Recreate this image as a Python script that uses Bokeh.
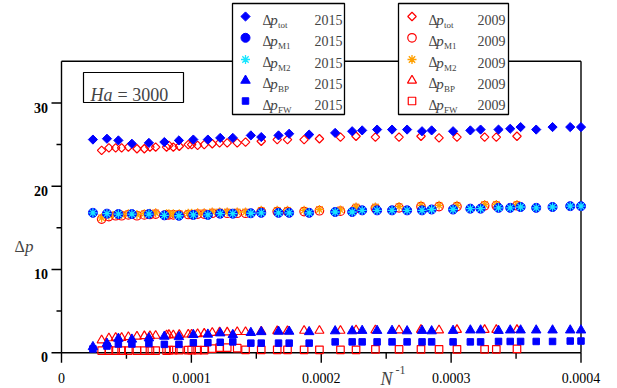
import math
from bokeh.plotting import figure
from bokeh.models import Range1d, Label
from bokeh.core.properties import value
from bokeh.embed import file_html
from bokeh.resources import INLINE

# ---------------- data ----------------
x2015 = [2.42e-5, 3.50e-5, 4.38e-5, 5.42e-5, 6.73e-5, 7.92e-5, 9.04e-5, 1.015e-4,
         1.127e-4, 1.222e-4, 1.319e-4, 1.458e-4, 1.538e-4, 1.671e-4, 1.753e-4, 1.907e-4,
         2.107e-4, 2.238e-4, 2.315e-4, 2.430e-4, 2.545e-4, 2.661e-4, 2.776e-4, 2.850e-4,
         3.015e-4, 3.148e-4, 3.227e-4, 3.365e-4, 3.455e-4, 3.535e-4, 3.655e-4, 3.781e-4,
         3.917e-4, 4.0e-4]
tot2015 = [25.6, 25.7, 25.5, 25.1, 25.2, 25.3, 25.5, 25.6, 25.6, 25.8, 25.8, 26.1, 25.9,
           26.1, 26.3, 26.2, 26.4, 26.6, 26.7, 26.8, 26.8, 26.8, 26.6, 26.7, 26.6, 26.7,
           26.8, 26.8, 26.9, 27.1, 26.8, 27.1, 27.1, 27.1]
m1_2015 = [16.8, 16.7, 16.65, 16.65, 16.65, 16.5, 16.45, 16.55, 16.55, 16.7, 16.7, 16.75,
           16.8, 16.8, 16.8, 16.8, 16.9, 16.9, 17.1, 17.1, 17.1, 17.1, 17.1, 17.2, 17.2,
           17.3, 17.3, 17.4, 17.4, 17.5, 17.4, 17.5, 17.6, 17.6]
m2_2015 = [16.8, 16.7, 16.65, 16.65, 16.65, 16.5, 16.45, 16.55, 16.55, 16.7, 16.7, 16.75,
           16.8, 16.8, 16.8, 16.8, 16.9, 16.9, 17.1, 17.1, 17.1, 17.1, 17.1, 17.2, 17.2,
           17.3, 17.3, 17.4, 17.4, 17.5, 17.4, 17.5, 17.6, 17.6]
bp2015 = [0.7, 1.1, 1.7, 1.6, 1.75, 1.95, 1.9, 2.15, 2.2, 2.35, 2.15, 2.4, 2.5, 2.55, 2.55,
          2.5, 2.6, 2.6, 2.65, 2.65, 2.65, 2.6, 2.65, 2.6, 2.65, 2.7, 2.7, 2.65, 2.7, 2.7,
          2.7, 2.7, 2.7, 2.7]
fw2015 = [0.45, 0.8, 1.05, 1.05, 1.1, 1.0, 1.0, 1.2, 1.2, 1.25, 1.3, 1.15, 1.15, 1.15,
          1.15, 1.15, 1.3, 1.3, 1.3, 1.3, 1.3, 1.3, 1.3, 1.3, 1.3, 1.3, 1.3, 1.35, 1.35,
          1.35, 1.35, 1.35, 1.4, 1.4]

x2009 = [3.09e-5, 3.65e-5, 4.17e-5, 4.63e-5, 5.15e-5, 5.81e-5, 6.38e-5, 6.81e-5, 7.25e-5,
         8.09e-5, 8.27e-5, 8.61e-5, 9.07e-5, 9.76e-5, 1.002e-4, 1.048e-4, 1.099e-4,
         1.161e-4, 1.217e-4, 1.276e-4, 1.353e-4, 1.417e-4, 1.538e-4, 1.661e-4, 1.740e-4,
         1.868e-4, 1.986e-4, 2.148e-4, 2.268e-4, 2.417e-4, 2.599e-4, 2.768e-4, 2.907e-4,
         3.045e-4, 3.258e-4, 3.348e-4, 3.507e-4]
tot2009 = [24.3, 24.6, 24.6, 24.6, 24.7, 24.5, 24.5, 24.7, 24.7, 24.7, 24.9, 24.7, 24.8,
           25.0, 25.0, 24.9, 25.0, 25.1, 25.2, 25.2, 25.2, 25.3, 25.4, 25.6, 25.6, 25.6,
           25.7, 25.9, 26.0, 25.9, 25.9, 26.0, 25.8, 25.9, 25.9, 25.9, 26.0]
m1_2009 = [16.05, 16.35, 16.45, 16.45, 16.55, 16.45, 16.55, 16.6, 16.65, 16.55, 16.55,
           16.55, 16.55, 16.6, 16.6, 16.65, 16.65, 16.75, 16.75, 16.75, 16.75, 16.75, 16.95,
           16.95, 16.95, 16.95, 17.05, 17.0, 17.35, 17.35, 17.4, 17.55, 17.55, 17.55, 17.65,
           17.65, 17.65]
m2_2009 = [16.2, 16.5, 16.6, 16.6, 16.7, 16.6, 16.7, 16.75, 16.8, 16.7, 16.7, 16.7, 16.7,
           16.75, 16.75, 16.8, 16.8, 16.9, 16.9, 16.9, 16.9, 16.9, 17.1, 17.1, 17.1, 17.1,
           17.2, 17.15, 17.5, 17.5, 17.55, 17.7, 17.7, 17.7, 17.8, 17.8, 17.8]
bp2009 = [1.5, 1.75, 1.8, 1.8, 1.9, 1.95, 2.0, 2.0, 2.05, 2.1, 2.15, 2.1, 2.15, 2.2, 2.2,
          2.25, 2.3, 2.4, 2.45, 2.45, 2.5, 2.5, 2.55, 2.6, 2.6, 2.65, 2.65, 2.65, 2.7, 2.7,
          2.7, 2.75, 2.7, 2.75, 2.75, 2.75, 2.75]
fw2009 = [0.25, 0.25, 0.25, 0.25, 0.25, 0.25, 0.25, 0.25, 0.25, 0.25, 0.3, 0.3, 0.3, 0.3,
          0.3, 0.3, 0.3, 0.5, 0.6, 0.6, 0.55, 0.35, 0.35, 0.35, 0.35, 0.35, 0.35, 0.35, 0.35,
          0.4, 0.4, 0.4, 0.4, 0.4, 0.4, 0.4, 0.45]

x_ticks = [0, 1e-4, 2e-4, 3e-4, 4e-4]
x_tick_labels = ["0", "0.0001", "0.0002", "0.0003", "0.0004"]
x_minor = [5e-5, 1.5e-4, 2.5e-4, 3.5e-4]
y_ticks = [0, 10, 20, 30]
y_tick_labels = ["0", "10", "20", "30"]
y_minor = [5, 15, 25]
X_MAX, Y_MAX = 4e-4, 35
legend_keys = ["tot", "M1", "M2", "BP", "FW"]

# ---------------- layout: the frame covers the whole canvas ----------------
W, H = 617, 388
X0_PX, XMAX_PX = 61.0, 580.5      # canvas px of x=0 and x=0.0004
Y0_PX, YMAX_PX = 352.2, 60.8      # canvas px of y=0 and y=35
PXU_X = (XMAX_PX - X0_PX) / X_MAX
PXU_Y = (Y0_PX - YMAX_PX) / Y_MAX

def dx(px):
    return (px - X0_PX) / PXU_X

def dy(py):
    return (Y0_PX - py) / PXU_Y

FONT = "Liberation Serif"
BLUE, CYAN, RED, ORANGE = "#0000ff", "#19e6ff", "#ff0000", "#ffa000"

p = figure(width=W, height=H, output_backend="svg", toolbar_location=None,
           x_range=Range1d(dx(0), dx(W)), y_range=Range1d(dy(H), dy(0)),
           min_border=0, min_border_left=0, min_border_right=0,
           min_border_top=0, min_border_bottom=0)
p.outline_line_color = None
p.grid.visible = False
p.xaxis.visible = False
p.yaxis.visible = False
p.background_fill_color = "white"

LW = 1.4
# frame lines
p.segment(x0=[0, 0, 0, X_MAX], y0=[0, 0, Y_MAX, 0], x1=[0, X_MAX, X_MAX, X_MAX],
          y1=[Y_MAX, 0, Y_MAX, Y_MAX], line_color="black", line_width=LW)

# ticks
p.segment(x0=x_ticks, y0=[0] * len(x_ticks), x1=x_ticks, y1=[dy(Y0_PX + 10)] * len(x_ticks),
          line_color="black", line_width=LW)
p.segment(x0=x_minor, y0=[0] * len(x_minor), x1=x_minor, y1=[dy(Y0_PX + 6)] * len(x_minor),
          line_color="black", line_width=LW)
p.segment(x0=[0] * len(y_ticks), y0=y_ticks, x1=[dx(X0_PX - 10)] * len(y_ticks), y1=y_ticks,
          line_color="black", line_width=LW)
p.segment(x0=[0] * len(y_minor), y0=y_minor, x1=[dx(X0_PX - 5)] * len(y_minor), y1=y_minor,
          line_color="black", line_width=LW)

# tick labels
p.text(x=x_ticks, y=[dy(377.3)] * len(x_ticks), text=x_tick_labels,
       text_font=value(FONT), text_font_size="14px", text_align="center",
       text_baseline="alphabetic", text_color="black")
p.text(x=[dx(47.5)] * len(y_ticks), y=[t - 4.7 / PXU_Y for t in y_ticks], text=y_tick_labels,
       text_font=value(FONT), text_font_size="14px", text_font_style="bold",
       text_align="right", text_baseline="alphabetic", text_color="black")

# series styles
st2009 = [dict(marker="square", angle=math.pi / 4, size=6, fill_color=None, line_color=RED, line_width=1.2),
          dict(marker="circle", size=8.5, fill_color=None, line_color=RED, line_width=1.2),
          dict(marker="asterisk", size=9, line_color=ORANGE, line_width=1.3),
          dict(marker="triangle", size=9, fill_color=None, line_color=RED, line_width=1.2),
          dict(marker="square", size=7.5, fill_color=None, line_color=RED, line_width=1.2)]
st2015 = [dict(marker="square", angle=math.pi / 4, size=6.5, fill_color=BLUE, line_color=BLUE, line_width=1),
          dict(marker="circle", size=9, fill_color=BLUE, line_color=BLUE, line_width=1),
          dict(marker="asterisk", size=9, line_color=CYAN, line_width=1.3),
          dict(marker="triangle", size=9.5, fill_color=BLUE, line_color=BLUE, line_width=1),
          dict(marker="square", size=6.5, fill_color=BLUE, line_color=BLUE, line_width=1)]

ys2009 = [tot2009, m1_2009, m2_2009, bp2009, fw2009]
ys2015 = [tot2015, m1_2015, m2_2015, bp2015, fw2015]
for yv, st in zip(ys2009, st2009):
    p.scatter(x=x2009, y=yv, **st)
for yv, st in zip(ys2015, st2015):
    p.scatter(x=x2015, y=yv, **st)

# Ha box
p.quad(left=[dx(83)], right=[dx(183)], top=[dy(72)], bottom=[dy(102)],
       fill_color="white", line_color="black", line_width=1.2)
p.add_layout(Label(x=dx(90), y=dy(94), text="Ha", text_font=FONT, text_font_size="18px",
                   text_font_style="italic", text_baseline="alphabetic"))
p.add_layout(Label(x=dx(117), y=dy(94), text="= 3000", text_font=FONT, text_font_size="18px",
                   text_baseline="alphabetic"))

# legends
def legend(box_l, box_r, marker_px, delta_px, year_right_px, year, styles):
    p.quad(left=[dx(box_l)], right=[dx(box_r)], top=[dy(3)], bottom=[dy(114)],
           fill_color="white", line_color="black", line_width=1.3)
    centers = [16, 37.3, 59, 80, 100.5]
    baselines = [19.5, 40.8, 62, 83.3, 104.7]
    for key, st, c, b in zip(legend_keys, styles, centers, baselines):
        p.scatter(x=[dx(marker_px)], y=[dy(c)], **st)
        p.add_layout(Label(x=dx(delta_px), y=dy(b), text="Δ", text_font=FONT,
                           text_font_size="14px", text_baseline="alphabetic"))
        p.add_layout(Label(x=dx(delta_px + 7.8), y=dy(b), text="p", text_font=FONT,
                           text_font_size="15px", text_font_style="italic",
                           text_baseline="alphabetic"))
        p.add_layout(Label(x=dx(delta_px + 15.5), y=dy(b + 5), text=key, text_font=FONT,
                           text_font_size="9px", text_baseline="alphabetic"))
        p.add_layout(Label(x=dx(year_right_px), y=dy(b), text=year, text_font=FONT,
                           text_font_size="14px", text_align="right",
                           text_baseline="alphabetic"))

legend(232, 344, 245, 262, 342, "2015", st2015)
legend(398, 508, 411.5, 428, 505, "2009", st2009)

# axis titles
p.add_layout(Label(x=dx(14), y=dy(246), text="Δ", text_font=FONT, text_font_size="16px",
                   text_baseline="alphabetic"))
p.add_layout(Label(x=dx(24.5), y=dy(246), text="p", text_font=FONT, text_font_size="17px",
                   text_font_style="italic", text_baseline="alphabetic"))
p.add_layout(Label(x=dx(380), y=dy(378), text="N", text_font=FONT, text_font_size="18px",
                   text_font_style="italic", text_baseline="alphabetic"))
p.add_layout(Label(x=dx(395), y=dy(369), text="-1", text_font=FONT, text_font_size="12px",
                   text_baseline="alphabetic"))

open("out.html", "w").write(file_html(p, INLINE))
